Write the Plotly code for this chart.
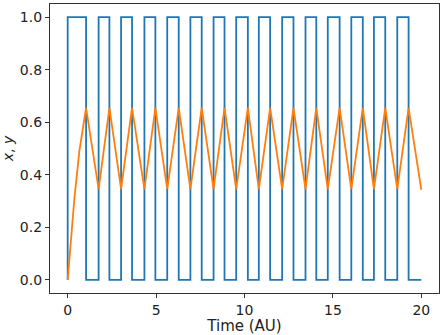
import plotly.graph_objects as go

# Square wave x(t): switching times and levels (step, hold-after)
x_times = [0.0, 0.0, 1.04, 1.75, 2.36, 3.02, 3.64, 4.34, 4.96, 5.63, 6.28, 6.94, 7.58,
           8.25, 8.87, 9.53, 10.19, 10.81, 11.45, 12.13, 12.77, 13.45, 14.06, 14.71,
           15.38, 16.04, 16.69, 17.32, 17.96, 18.64, 19.28, 20.0]
x_levels = [0, 1, 0, 1, 0, 1, 0, 1, 0, 1, 0, 1, 0,
            1, 0, 1, 0, 1, 0, 1, 0, 1, 0, 1,
            0, 1, 0, 1, 0, 1, 0, 0]

# y(t): vertices
y_times = [0.0, 0.38, 0.66, 1.04, 1.75, 2.36, 3.02, 3.64, 4.34, 4.96, 5.63, 6.28, 6.94, 7.58,
           8.25, 8.87, 9.53, 10.19, 10.81, 11.45, 12.13, 12.77, 13.45, 14.06, 14.71,
           15.38, 16.04, 16.69, 17.32, 17.96, 18.64, 19.28, 20.0]
y_values = [0.0, 0.31, 0.49, 0.655, 0.345, 0.655, 0.345, 0.655, 0.345, 0.655, 0.345, 0.655, 0.345, 0.655,
            0.345, 0.655, 0.345, 0.655, 0.345, 0.655, 0.345, 0.655, 0.345, 0.655, 0.345,
            0.655, 0.345, 0.655, 0.345, 0.655, 0.345, 0.655, 0.343]

x_ticks = [0, 5, 10, 15, 20]
y_ticks = [0.0, 0.2, 0.4, 0.6, 0.8, 1.0]
y_ticklabels = ["0.0", "0.2", "0.4", "0.6", "0.8", "1.0"]

fig = go.Figure()
fig.add_trace(go.Scatter(x=x_times, y=x_levels, mode="lines", line_shape="hv",
                         line=dict(color="#1f77b4", width=1.8), showlegend=False))
fig.add_trace(go.Scatter(x=y_times, y=y_values, mode="lines",
                         line=dict(color="#ff7f0e", width=1.8), showlegend=False))

axis_common = dict(showline=True, mirror=True, linecolor="#333333", linewidth=1.2,
                   ticks="outside", ticklen=4, tickwidth=1, tickcolor="#333333",
                   showgrid=False, zeroline=False, automargin=False,
                   tickfont=dict(family="DejaVu Sans", size=14, color="#222222"))

fig.update_layout(
    width=441, height=335,
    margin=dict(l=50, r=2, t=4, b=42),
    paper_bgcolor="white", plot_bgcolor="white",
    xaxis=dict(range=[-1, 21], tickvals=x_ticks, ticktext=[str(v) for v in x_ticks],
               title=dict(text="Time (AU)", font=dict(family="DejaVu Sans", size=15, color="#222222"),
                          standoff=0),
               **axis_common),
    yaxis=dict(range=[-0.05, 1.05], tickvals=y_ticks, ticktext=y_ticklabels,
               title=dict(text="<i>x</i>, <i>y</i>", font=dict(family="DejaVu Sans", size=14, color="#222222"),
                          standoff=4),
               **axis_common),
)

fig.write_html("out.html", config={"displayModeBar": False},
               post_script=["document.body.style.margin='0px';document.body.style.overflow='hidden';"])
